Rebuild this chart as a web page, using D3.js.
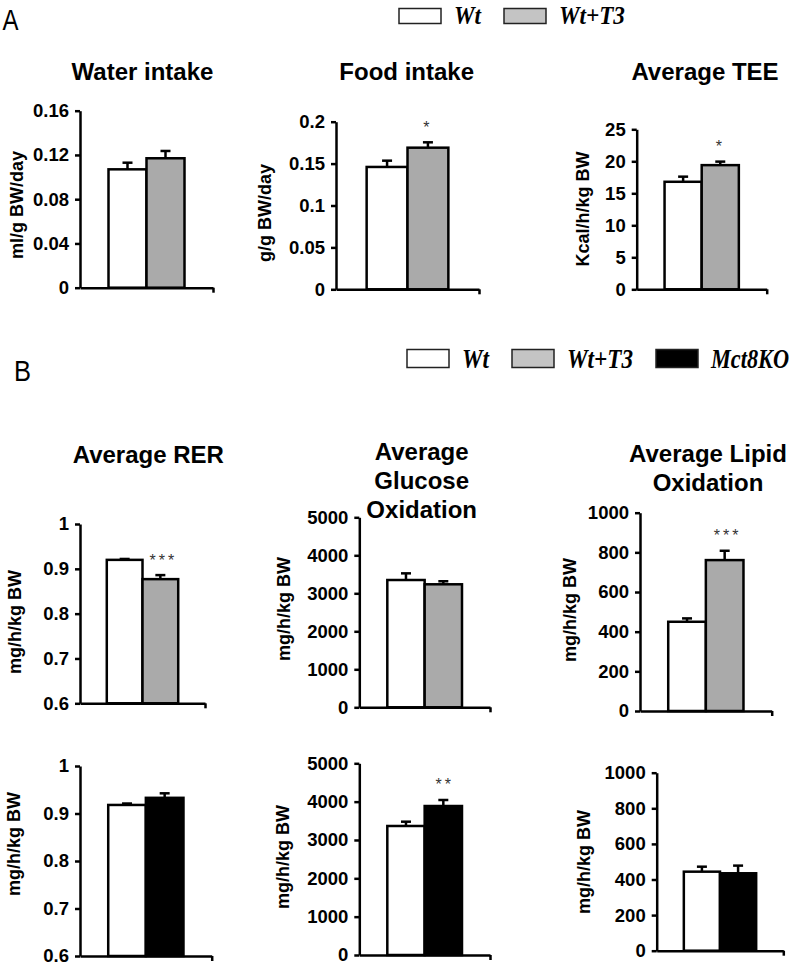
<!DOCTYPE html>
<html>
<head>
<meta charset="utf-8">
<script src="https://cdn.jsdelivr.net/npm/d3@7"></script>
<style>
  body { margin: 0; background: #fff; }
  svg { display: block; font-family: "Liberation Sans", Arial, sans-serif; }
</style>
</head>
<body>
<svg id="fig" width="802" height="967"></svg>
<script>
// groups shown in the legends
var groups = ["Wt", "Wt+T3", "Mct8KO"];
var groupFill = {"Wt": "#ffffff", "Wt+T3": "#aaaaaa", "Mct8KO": "#000000"};
var legendFill = {"Wt": "#ffffff", "Wt+T3": "#c4c4c4", "Mct8KO": "#000000"};

var seriesT3 = ["Wt", "Wt+T3"];
var seriesKO = ["Wt", "Mct8KO"];

// panel A
var waterMean = [0.107, 0.117], waterErr = [0.006, 0.0066], waterSig = ["", ""];
var foodMean = [0.146, 0.169], foodErr = [0.0075, 0.0064], foodSig = ["", "*"];
var teeMean = [16.8, 19.4], teeErr = [0.8, 0.55], teeSig = ["", "*"];

// panel B, Wt vs Wt+T3
var rerMean = [0.920, 0.877], rerErr = [0.002, 0.009], rerSig = ["", "***"];
var gluMean = [3350, 3237], gluErr = [175, 80], gluSig = ["", ""];
var lipMean = [450, 761], lipErr = [17, 47], lipSig = ["", "***"];

// panel B, Wt vs Mct8KO
var rerKoMean = [0.918, 0.933], rerKoErr = [0.003, 0.0095], rerKoSig = ["", ""];
var gluKoMean = [3365, 3886], gluKoErr = [112, 157], gluKoSig = ["", "**"];
var lipKoMean = [444, 435], lipKoErr = [28, 43], lipKoSig = ["", ""];

// y ticks
var waterTicks = [0, 0.04, 0.08, 0.12, 0.16];
var foodTicks = [0, 0.05, 0.1, 0.15, 0.2];
var teeTicks = [0, 5, 10, 15, 20, 25];
var rerTicks = [0.6, 0.7, 0.8, 0.9, 1];
var gluTicks = [0, 1000, 2000, 3000, 4000, 5000];
var lipTicks = [0, 200, 400, 600, 800, 1000];

var panels = [
  {title: ["Water intake"], ylabel: "ml/g BW/day", series: seriesT3, mean: waterMean, err: waterErr, sig: waterSig, ticks: waterTicks},
  {title: ["Food intake"], ylabel: "g/g BW/day", series: seriesT3, mean: foodMean, err: foodErr, sig: foodSig, ticks: foodTicks},
  {title: ["Average TEE"], ylabel: "Kcal/h/kg BW", series: seriesT3, mean: teeMean, err: teeErr, sig: teeSig, ticks: teeTicks},
  {title: ["Average RER"], ylabel: "mg/h/kg BW", series: seriesT3, mean: rerMean, err: rerErr, sig: rerSig, ticks: rerTicks},
  {title: ["Average", "Glucose", "Oxidation"], ylabel: "mg/h/kg BW", series: seriesT3, mean: gluMean, err: gluErr, sig: gluSig, ticks: gluTicks},
  {title: ["Average Lipid", "Oxidation"], ylabel: "mg/h/kg BW", series: seriesT3, mean: lipMean, err: lipErr, sig: lipSig, ticks: lipTicks},
  {title: [], ylabel: "mg/h/kg BW", series: seriesKO, mean: rerKoMean, err: rerKoErr, sig: rerKoSig, ticks: rerTicks},
  {title: [], ylabel: "mg/h/kg BW", series: seriesKO, mean: gluKoMean, err: gluKoErr, sig: gluKoSig, ticks: gluTicks},
  {title: [], ylabel: "mg/h/kg BW", series: seriesKO, mean: lipKoMean, err: lipKoErr, sig: lipKoSig, ticks: lipTicks}
];

// where each panel sits on the page (axis corners, label and title anchors)
var layout = [
  {x0: 80,    x1: 213,   yT: 110.7, yB: 287.7, labX: 16.5,  labY: 205, tX: 142.5, tY: 80},
  {x0: 336,   x1: 479,   yT: 121.7, yB: 289.3, labX: 265,   labY: 213, tX: 406.7, tY: 80},
  {x0: 636.7, x1: 766.7, yT: 129.3, yB: 289.3, labX: 582.5, labY: 209, tX: 705,   tY: 80},
  {x0: 80,    x1: 205,   yT: 524,   yB: 703.3, labX: 15,    labY: 622, tX: 148.3, tY: 463},
  {x0: 359.3, x1: 490,   yT: 517.3, yB: 707.3, labX: 284,   labY: 609, tX: 421.7, tY: 460},
  {x0: 640,   x1: 771.7, yT: 512.7, yB: 711,   labX: 570,   labY: 610, tX: 708,   tY: 462},
  {x0: 80,    x1: 211.7, yT: 766,   yB: 956,   labX: 14,    labY: 844},
  {x0: 359.3, x1: 490,   yT: 763.3, yB: 955,   labX: 282.5, labY: 857},
  {x0: 656.7, x1: 783.3, yT: 772.7, yB: 950.7, labX: 583.5, labY: 862}
];

var svg = d3.select("#fig");

function drawPanel(p, lay) {
  var g = svg.append("g");
  var y = d3.scaleLinear()
      .domain(d3.extent(p.ticks))
      .range([lay.yB, lay.yT]);
  var x = d3.scaleBand()
      .domain(p.series)
      .range([lay.x0, lay.x1])
      .paddingInner(0)
      .paddingOuter(0.75);

  g.selectAll(".bar")
    .data(p.series)
    .enter().append("rect")
      .attr("class", "bar")
      .attr("x", function(d) { return x(d); })
      .attr("width", x.bandwidth())
      .attr("y", function(d, i) { return y(p.mean[i]); })
      .attr("height", function(d, i) { return y.range()[0] - y(p.mean[i]); })
      .attr("fill", function(d) { return groupFill[d]; })
      .attr("stroke", "#000")
      .attr("stroke-width", 2.5);

  // error bars, upper side only
  var eb = g.selectAll(".err")
    .data(p.series)
    .enter().append("g")
      .attr("class", "err")
      .attr("stroke", "#000")
      .attr("stroke-width", 2.5);
  eb.append("line")
      .attr("x1", function(d) { return x(d) + x.bandwidth() / 2; })
      .attr("x2", function(d) { return x(d) + x.bandwidth() / 2; })
      .attr("y1", function(d, i) { return y(p.mean[i]); })
      .attr("y2", function(d, i) { return y(p.mean[i] + p.err[i]); });
  eb.append("line")
      .attr("x1", function(d) { return x(d) + x.bandwidth() / 2 - 5; })
      .attr("x2", function(d) { return x(d) + x.bandwidth() / 2 + 5; })
      .attr("y1", function(d, i) { return y(p.mean[i] + p.err[i]); })
      .attr("y2", function(d, i) { return y(p.mean[i] + p.err[i]); });

  // significance stars
  g.selectAll(".sig")
    .data(p.series)
    .enter().append("text")
      .attr("class", "sig")
      .attr("x", function(d, i) { return x(d) + x.bandwidth() / 2 + (p.sig[i].length - 1) * 1.5; })
      .attr("y", function(d, i) { return y(p.mean[i] + p.err[i]) - 9.5; })
      .attr("text-anchor", "middle")
      .style("font-size", "16px")
      .style("letter-spacing", "3px")
      .attr("fill", "#333")
      .text(function(d, i) { return p.sig[i]; });

  // y axis
  var ya = g.append("g")
      .attr("transform", "translate(" + lay.x0 + ",0)")
      .call(d3.axisLeft(y).tickValues(p.ticks).tickFormat(d3.format("~g"))
        .tickSize(5).tickSizeOuter(0).tickPadding(6));
  ya.attr("font-size", null).attr("font-family", null);
  ya.selectAll("path, line").attr("stroke", "#000").attr("stroke-width", 2.5);
  ya.selectAll("text")
      .style("font-size", "18.5px")
      .style("font-weight", "bold")
      .attr("fill", "#000");

  // x axis, with only the end tick
  var xa = g.append("g")
      .attr("transform", "translate(0," + lay.yB + ")")
      .call(d3.axisBottom(d3.scaleLinear().range([lay.x0, lay.x1]))
        .tickValues([1]).tickFormat("").tickSize(5).tickSizeOuter(0));
  xa.selectAll("path, line").attr("stroke", "#000").attr("stroke-width", 2.5);

  // y label
  g.append("text")
      .attr("transform", "translate(" + lay.labX + "," + lay.labY + ") rotate(-90)")
      .attr("text-anchor", "middle")
      .attr("dy", "0.35em")
      .style("font-size", "18px")
      .style("font-weight", "bold")
      .text(p.ylabel);

  // title
  g.selectAll(".title")
    .data(p.title)
    .enter().append("text")
      .attr("class", "title")
      .attr("x", lay.tX)
      .attr("y", function(d, i) { return lay.tY + i * 29; })
      .attr("text-anchor", "middle")
      .style("font-size", "24px")
      .style("font-weight", "bold")
      .text(function(d) { return d; });
}

panels.forEach(function(p, i) { drawPanel(p, layout[i]); });

// legends: the serif labels are narrow in the original, so squeeze them horizontally
var legendTextWidth = {"Wt": 27, "Wt+T3": 66, "Mct8KO": 78};

function drawLegend(keys, x, y, boxH, fontSize) {
  var g = svg.append("g").attr("transform", "translate(" + x + "," + y + ")");
  var cx = 0;
  keys.forEach(function(k) {
    g.append("rect")
        .attr("x", cx)
        .attr("y", -boxH)
        .attr("width", 42)
        .attr("height", boxH)
        .attr("fill", legendFill[k])
        .attr("stroke", "#222")
        .attr("stroke-width", 1.5);
    var t = g.append("text")
        .style("font-family", "'Liberation Serif', 'Times New Roman', serif")
        .style("font-style", "italic")
        .style("font-weight", "bold")
        .style("font-size", fontSize + "px")
        .text(k);
    var sx = legendTextWidth[k] / t.node().getComputedTextLength();
    t.attr("transform", "translate(" + (cx + 55) + ",0) scale(" + sx + ",1)");
    cx += 55 + legendTextWidth[k] + 23;
  });
}

drawLegend(groups.slice(0, 2), 399, 23.5, 15, 26);
drawLegend(groups, 407, 367.5, 18, 28);

// panel letters
svg.append("text")
    .attr("transform", "translate(2.5,30) scale(0.8,1)")
    .style("font-size", "30px")
    .text("A");
svg.append("text")
    .attr("transform", "translate(14,381) scale(0.85,1)")
    .style("font-size", "30px")
    .text("B");
</script>
</body>
</html>
